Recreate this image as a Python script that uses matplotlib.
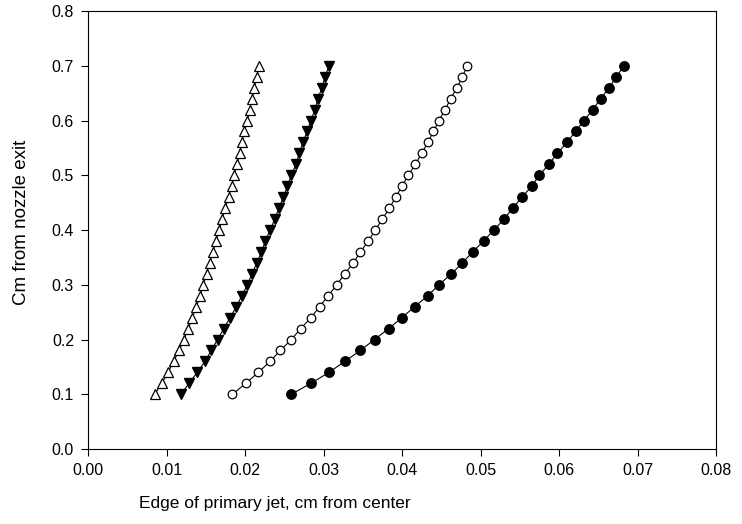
import matplotlib
matplotlib.use("Agg")
import matplotlib.pyplot as plt

plt.rcParams['font.family'] = ['Liberation Sans', 'DejaVu Sans']

# height from nozzle exit (cm), same for every series
y_vals = [0.10, 0.12, 0.14, 0.16, 0.18, 0.20, 0.22, 0.24, 0.26, 0.28, 0.30,
          0.32, 0.34, 0.36, 0.38, 0.40, 0.42, 0.44, 0.46, 0.48, 0.50,
          0.52, 0.54, 0.56, 0.58, 0.60, 0.62, 0.64, 0.66, 0.68, 0.70]

# edge of primary jet (cm from center)
open_tri = [0.0085, 0.0094, 0.0102, 0.0109, 0.0116, 0.0122, 0.0128, 0.0133, 0.0138, 0.0143, 0.0147,
            0.0151, 0.0155, 0.0159, 0.0163, 0.0167, 0.0171, 0.0175, 0.0179, 0.0183, 0.0186,
            0.0190, 0.0193, 0.0196, 0.0199, 0.0203, 0.0206, 0.0209, 0.0212, 0.0215, 0.0218]
filled_tri = [0.0118, 0.0129, 0.0139, 0.0149, 0.0157, 0.0165, 0.0173, 0.0181, 0.0189, 0.0196, 0.0203,
              0.0209, 0.0215, 0.0221, 0.0226, 0.0232, 0.0238, 0.0243, 0.0249, 0.0254, 0.0259,
              0.0265, 0.0269, 0.0274, 0.0279, 0.0284, 0.0289, 0.0293, 0.0298, 0.0302, 0.0307]
open_circ = [0.0184, 0.0201, 0.0217, 0.0232, 0.0245, 0.0259, 0.0271, 0.0284, 0.0295, 0.0306, 0.0317,
             0.0327, 0.0338, 0.0347, 0.0357, 0.0366, 0.0375, 0.0384, 0.0392, 0.0400, 0.0408,
             0.0417, 0.0425, 0.0433, 0.0440, 0.0447, 0.0455, 0.0462, 0.0470, 0.0477, 0.0483]
filled_circ = [0.0259, 0.0284, 0.0307, 0.0327, 0.0347, 0.0365, 0.0383, 0.0400, 0.0416, 0.0433, 0.0447,
               0.0463, 0.0477, 0.0490, 0.0504, 0.0517, 0.0530, 0.0541, 0.0553, 0.0565, 0.0575,
               0.0587, 0.0598, 0.0610, 0.0621, 0.0632, 0.0643, 0.0653, 0.0664, 0.0673, 0.0683]

fig = plt.figure(figsize=(7.42, 5.24), dpi=100)
ax = fig.add_axes([0.1186, 0.1431, 0.8464, 0.8359])

ax.plot(open_tri, y_vals, color='black', lw=0.8, marker='^', ms=7.5,
        markerfacecolor='white', markeredgecolor='black', markeredgewidth=0.9)
ax.plot(filled_tri, y_vals, color='black', lw=0.8, marker='v', ms=7.5,
        markerfacecolor='black', markeredgecolor='black')
ax.plot(open_circ, y_vals, color='black', lw=0.8, marker='o', ms=6.2,
        markerfacecolor='white', markeredgecolor='black', markeredgewidth=0.9)
ax.plot(filled_circ, y_vals, color='black', lw=0.8, marker='o', ms=6.8,
        markerfacecolor='black', markeredgecolor='black')

ax.set_xlim(0, 0.08)
ax.set_ylim(0, 0.8)
ax.set_xticks([0.00, 0.01, 0.02, 0.03, 0.04, 0.05, 0.06, 0.07, 0.08])
ax.set_xticklabels(['0.00', '0.01', '0.02', '0.03', '0.04', '0.05', '0.06', '0.07', '0.08'])
ax.set_yticks([0.0, 0.1, 0.2, 0.3, 0.4, 0.5, 0.6, 0.7, 0.8])
ax.set_yticklabels(['0.0', '0.1', '0.2', '0.3', '0.4', '0.5', '0.6', '0.7', '0.8'])
ax.tick_params(direction='out', length=5, width=0.8, labelsize=11.5, pad=5)

ax.set_xlabel('Edge of primary jet, cm from center', fontsize=12.5)
ax.set_ylabel('Cm from nozzle exit', fontsize=13.5)
ax.xaxis.set_label_coords(0.298, -0.108)
ax.yaxis.set_label_coords(-0.092, 0.518)

fig.savefig('out.png', dpi=100)
